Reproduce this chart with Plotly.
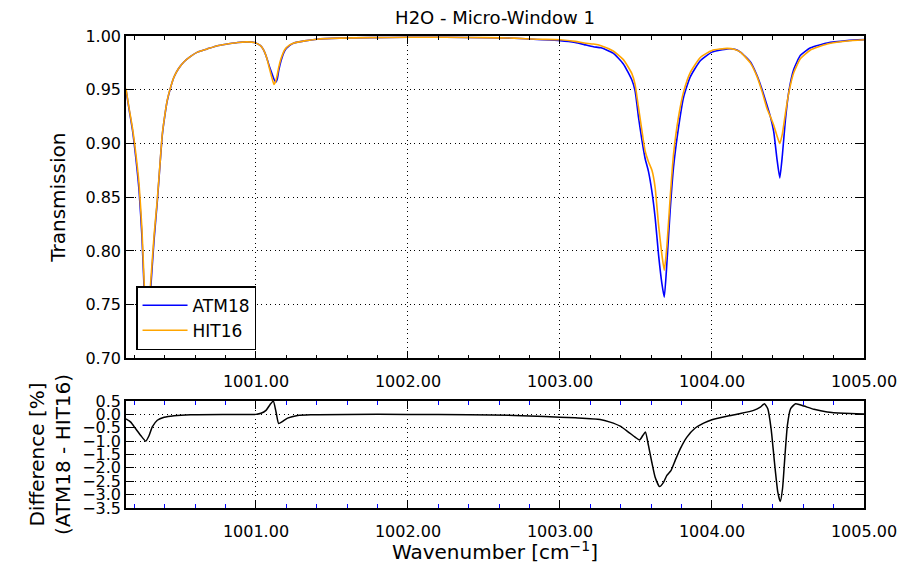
import plotly.graph_objects as go

# ---------------- data ----------------
wn_t = [1000.145, 1000.165, 1000.187, 1000.21, 1000.231, 1000.25, 1000.264, 1000.275,
        1000.286, 1000.297, 1000.308, 1000.33, 1000.351, 1000.368, 1000.384, 1000.40,
        1000.416, 1000.44, 1000.461, 1000.49, 1000.527, 1000.57, 1000.615, 1000.68,
        1000.747, 1000.81, 1000.879, 1000.94, 1000.99, 1001.03, 1001.05, 1001.07,
        1001.09, 1001.105, 1001.118, 1001.13, 1001.14, 1001.15, 1001.165, 1001.19,
        1001.22, 1001.25, 1001.32, 1001.40, 1001.55, 1001.75, 1002.0, 1002.25,
        1002.5, 1002.7, 1002.85, 1003.0, 1003.1, 1003.16, 1003.22, 1003.27,
        1003.35, 1003.417, 1003.473, 1003.494, 1003.516, 1003.539, 1003.56, 1003.582,
        1003.605, 1003.626, 1003.648, 1003.67, 1003.686, 1003.703, 1003.725, 1003.747,
        1003.78, 1003.813, 1003.857, 1003.923, 1004.0, 1004.1, 1004.15, 1004.187,
        1004.252, 1004.297, 1004.33, 1004.363, 1004.384, 1004.406, 1004.428, 1004.446,
        1004.463, 1004.483, 1004.505, 1004.538, 1004.582, 1004.648, 1004.758, 1004.89,
        1005.0]

t_hit16 = [0.951, 0.933, 0.915, 0.890, 0.862, 0.820, 0.772, 0.745,
           0.735, 0.750, 0.772, 0.815, 0.848, 0.880, 0.909, 0.926,
           0.940, 0.953, 0.962, 0.9695, 0.976, 0.981, 0.985, 0.988,
           0.991, 0.9925, 0.994, 0.9945, 0.994, 0.991, 0.987, 0.980,
           0.969, 0.961, 0.955, 0.958, 0.964, 0.971, 0.979, 0.9875,
           0.9915, 0.9935, 0.9955, 0.997, 0.998, 0.9985, 0.9988, 0.9988,
           0.9985, 0.998, 0.997, 0.9965, 0.995, 0.9935, 0.9925, 0.991,
           0.986, 0.978, 0.965, 0.955, 0.934, 0.912, 0.893, 0.883,
           0.875, 0.859, 0.825, 0.797, 0.782, 0.804, 0.850, 0.890,
           0.925, 0.948, 0.966, 0.980, 0.9866, 0.9885, 0.9875, 0.985,
           0.975, 0.962, 0.948, 0.932, 0.925, 0.917, 0.907, 0.900,
           0.909, 0.928, 0.947, 0.966, 0.979, 0.987, 0.9925, 0.9953,
           0.9965]

t_atm18 = [0.950, 0.932, 0.913, 0.886, 0.856, 0.813, 0.765, 0.738,
           0.728, 0.743, 0.766, 0.811, 0.846, 0.879, 0.908, 0.9255,
           0.9395, 0.9528, 0.9618, 0.9695, 0.976, 0.981, 0.985, 0.988,
           0.991, 0.9925, 0.994, 0.9945, 0.994, 0.991, 0.987, 0.980,
           0.971, 0.965, 0.960, 0.957, 0.960, 0.968, 0.977, 0.9865,
           0.991, 0.9935, 0.9955, 0.997, 0.998, 0.9985, 0.9988, 0.9988,
           0.9984, 0.9979, 0.9968, 0.9957, 0.994, 0.992, 0.990, 0.989,
           0.984, 0.974, 0.959, 0.949, 0.925, 0.903, 0.886, 0.874,
           0.855, 0.831, 0.797, 0.770, 0.757, 0.788, 0.838, 0.878,
           0.915, 0.943, 0.962, 0.977, 0.985, 0.988, 0.9876, 0.985,
           0.976, 0.963, 0.950, 0.935, 0.925, 0.911, 0.885, 0.868,
           0.889, 0.922, 0.948, 0.969, 0.982, 0.989, 0.9935, 0.9957,
           0.9966]

wn_d = [1000.145, 1000.176, 1000.209, 1000.242, 1000.275, 1000.297, 1000.318, 1000.351,
        1000.396, 1000.461, 1000.57, 1000.79, 1001.0, 1001.033, 1001.066, 1001.092,
        1001.114, 1001.132, 1001.149, 1001.175, 1001.208, 1001.274, 1001.36, 1001.6,
        1002.0, 1002.4, 1002.7, 1002.9, 1003.1, 1003.264, 1003.33, 1003.396,
        1003.45, 1003.494, 1003.523, 1003.545, 1003.562, 1003.582, 1003.604, 1003.626,
        1003.655, 1003.681, 1003.703, 1003.73, 1003.758, 1003.791, 1003.835, 1003.89,
        1003.945, 1004.0, 1004.099, 1004.187, 1004.274, 1004.318, 1004.345, 1004.367,
        1004.389, 1004.411, 1004.433, 1004.449, 1004.464, 1004.48, 1004.496, 1004.517,
        1004.55, 1004.605, 1004.671, 1004.758, 1004.868, 1005.0]

diff_pct = [-0.17, -0.29, -0.54, -0.79, -1.0, -0.79, -0.47, -0.22,
            -0.11, -0.05, -0.01, 0.0, 0.0, 0.04, 0.15, 0.36,
            0.5, 0.09, -0.34, -0.26, -0.14, -0.04, -0.01, 0.0,
            0.0, -0.01, -0.04, -0.08, -0.13, -0.19, -0.29, -0.44,
            -0.66, -0.85, -0.96, -0.79, -0.66, -1.16, -1.79, -2.35,
            -2.70, -2.54, -2.28, -2.10, -1.72, -1.29, -0.85, -0.51,
            -0.33, -0.20, -0.07, 0.03, 0.15, 0.27, 0.40, 0.21,
            -0.54, -1.79, -2.91, -3.26, -2.78, -1.54, -0.41, 0.21,
            0.40, 0.31, 0.19, 0.09, 0.04, 0.01]

x_range = [1000.145, 1005.0]
top_y_range = [0.70, 1.00]
bot_y_range = [-3.5, 0.5]

FONT = "DejaVu Sans"
DOT = "1px,3.5px"
W, H = 900, 556  # page body adds an 8px offset

fig = go.Figure()
fig.add_trace(go.Scatter(x=wn_t, y=t_atm18, name="ATM18", mode="lines",
                         line=dict(color="#0000ff", width=1.6, shape="spline", smoothing=0.5),
                         xaxis="x2", yaxis="y2"))
fig.add_trace(go.Scatter(x=wn_t, y=t_hit16, name="HIT16", mode="lines",
                         line=dict(color="#ffa500", width=1.6, shape="spline", smoothing=0.5),
                         xaxis="x2", yaxis="y2"))
fig.add_trace(go.Scatter(x=wn_d, y=diff_pct, mode="lines", showlegend=False,
                         line=dict(color="black", width=1.5, shape="spline", smoothing=0.5),
                         xaxis="x", yaxis="y"))


def xaxis_style(minor_color, anchor, title=None):
    d = dict(range=x_range, anchor=anchor, tickmode="linear", tick0=1001, dtick=1,
             tickformat=".2f", ticks="inside", ticklen=8, tickwidth=1, tickcolor="black",
             ticklabelstandoff=8, automargin=False,
             showline=True, linecolor="black", linewidth=1.5, mirror="allticks",
             showgrid=True, gridcolor="black", griddash=DOT, gridwidth=1, zeroline=False,
             tickfont=dict(size=16, color="black", family=FONT),
             minor=dict(tickmode="linear", tick0=1000.2, dtick=0.2, ticks="inside",
                        ticklen=4, tickwidth=1, tickcolor=minor_color, showgrid=False))
    if title:
        d["title"] = dict(text=title, font=dict(size=20, color="black", family=FONT), standoff=8)
    return d


def yaxis_style(rng, dtick, fmt, domain, anchor, title, standoff):
    return dict(range=rng, domain=domain, anchor=anchor, tickmode="linear", tick0=rng[0],
                dtick=dtick, tickformat=fmt, ticks="inside", ticklen=8, tickwidth=1,
                tickcolor="black", showline=True, linecolor="black", linewidth=1.5,
                mirror="allticks", showgrid=True, gridcolor="black", griddash=DOT,
                gridwidth=1, zeroline=False, automargin=False,
                tickfont=dict(size=16, color="black", family=FONT),
                title=dict(text=title, font=dict(size=20, color="black", family=FONT),
                           standoff=standoff))


fig.update_layout(
    width=W, height=H,
    margin=dict(l=118, r=44, t=28, b=56),
    paper_bgcolor="white", plot_bgcolor="white",
    font=dict(family=FONT, color="black"),
    title=dict(text="H2O - Micro-Window 1", x=0.5, xref="paper", xanchor="center",
               y=1 - 10 / H, yref="container", yanchor="middle",
               font=dict(size=18, color="black", family=FONT)),
    xaxis=xaxis_style("#0000ff", "y", "Wavenumber [cm<sup>−1</sup>]"),
    yaxis=yaxis_style(bot_y_range, 0.5, ".1f", [0.0, 0.2267], "x",
                      "Difference [%]<br>(ATM18 - HIT16)", 6),
    xaxis2=xaxis_style("black", "y2"),
    yaxis2=yaxis_style(top_y_range, 0.05, ".2f", [0.317, 1.0], "x2", "Transmission", 14),
    legend=dict(x=0.0136, y=0.470, xanchor="left", yanchor="top",
                bordercolor="black", borderwidth=1.5, bgcolor="white",
                font=dict(size=17, color="black", family=FONT),
                itemwidth=45, entrywidth=120, tracegroupgap=0),
    showlegend=True,
)

fig.write_html("out.html")
